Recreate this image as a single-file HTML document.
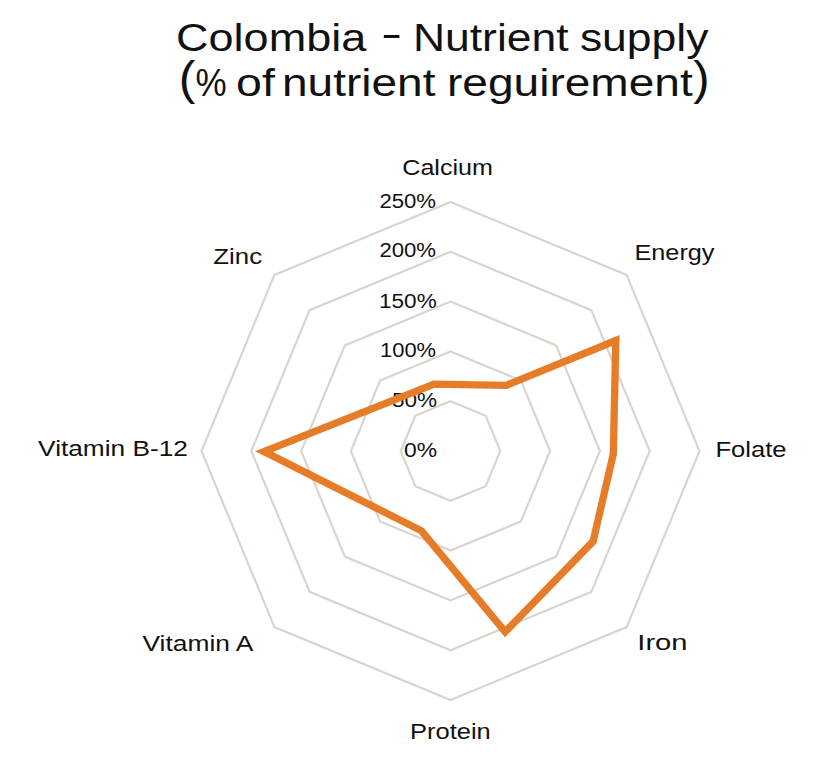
<!DOCTYPE html>
<html><head><meta charset="utf-8"><style>
html,body{margin:0;padding:0;background:#fff;width:840px;height:772px;overflow:hidden}
svg{display:block;font-family:"Liberation Sans",sans-serif}
</style></head><body>
<svg width="840" height="772" viewBox="0 0 840 772">
<rect width="840" height="772" fill="#fff"/>
<g><polygon points="450.50,401.20 485.71,415.79 500.30,451.00 485.71,486.21 450.50,500.80 415.29,486.21 400.70,451.00 415.29,415.79" fill="none" stroke="#d9d5ce" stroke-width="2.2"/>
<polygon points="450.50,351.40 520.93,380.57 550.10,451.00 520.93,521.43 450.50,550.60 380.07,521.43 350.90,451.00 380.07,380.57" fill="none" stroke="#d9d5ce" stroke-width="2.2"/>
<polygon points="450.50,301.60 556.14,345.36 599.90,451.00 556.14,556.64 450.50,600.40 344.86,556.64 301.10,451.00 344.86,345.36" fill="none" stroke="#d9d5ce" stroke-width="2.2"/>
<polygon points="450.50,251.80 591.36,310.14 649.70,451.00 591.36,591.86 450.50,650.20 309.64,591.86 251.30,451.00 309.64,310.14" fill="none" stroke="#d9d5ce" stroke-width="2.2"/>
<polygon points="450.50,202.00 626.57,274.93 699.50,451.00 626.57,627.07 450.50,700.00 274.43,627.07 201.50,451.00 274.43,274.93" fill="none" stroke="#d9d5ce" stroke-width="2.2"/></g>
<g fill="#111">
<text x="176.10" y="50.90" font-size="38" textLength="190.12" lengthAdjust="spacingAndGlyphs">Colombia</text>
<text x="381.10" y="46.60" font-size="38" textLength="21.22" lengthAdjust="spacingAndGlyphs">-</text>
<text x="412.90" y="50.90" font-size="38" textLength="155.69" lengthAdjust="spacingAndGlyphs">Nutrient</text>
<text x="579.90" y="50.90" font-size="38" textLength="128.47" lengthAdjust="spacingAndGlyphs">supply</text>
<text x="178.80" y="94.00" font-size="45.375574192336586" textLength="16.64" lengthAdjust="spacingAndGlyphs">(</text>
<text x="195.60" y="96.30" font-size="38" textLength="31.15" lengthAdjust="spacingAndGlyphs">%</text>
<text x="236.10" y="96.30" font-size="38" textLength="38.77" lengthAdjust="spacingAndGlyphs">of</text>
<text x="282.00" y="96.30" font-size="38" textLength="153.41" lengthAdjust="spacingAndGlyphs">nutrient</text>
<text x="447.00" y="96.30" font-size="38" textLength="245.75" lengthAdjust="spacingAndGlyphs">reguirement</text>
<text x="693.20" y="94.00" font-size="45.375574192336586" textLength="16.30" lengthAdjust="spacingAndGlyphs">)</text>
<text x="402.30" y="174.50" font-size="22.5" textLength="90.55" lengthAdjust="spacingAndGlyphs">Calcium</text>
<text x="634.50" y="259.50" font-size="22.5" textLength="79.93" lengthAdjust="spacingAndGlyphs">Energy</text>
<text x="715.50" y="456.50" font-size="22.5" textLength="71.01" lengthAdjust="spacingAndGlyphs">Folate</text>
<text x="637.30" y="650.00" font-size="22.5" textLength="50.22" lengthAdjust="spacingAndGlyphs">Iron</text>
<text x="410.10" y="738.50" font-size="22.5" textLength="80.68" lengthAdjust="spacingAndGlyphs">Protein</text>
<text x="142.50" y="650.50" font-size="22.5" textLength="110.83" lengthAdjust="spacingAndGlyphs">Vitamin A</text>
<text x="38.10" y="456.30" font-size="22.5" textLength="149.83" lengthAdjust="spacingAndGlyphs">Vitamin B-12</text>
<text x="213.30" y="263.50" font-size="22.5" textLength="48.77" lengthAdjust="spacingAndGlyphs">Zinc</text>
<text x="379.40" y="207.50" font-size="19.5" textLength="56.69" lengthAdjust="spacingAndGlyphs">250%</text>
<text x="379.40" y="257.30" font-size="19.5" textLength="56.69" lengthAdjust="spacingAndGlyphs">200%</text>
<text x="379.00" y="308.10" font-size="19.5" textLength="57.72" lengthAdjust="spacingAndGlyphs">150%</text>
<text x="380.00" y="357.40" font-size="19.5" textLength="56.12" lengthAdjust="spacingAndGlyphs">100%</text>
<text x="392.00" y="406.70" font-size="19.5" textLength="45.10" lengthAdjust="spacingAndGlyphs">50%</text>
<text x="404.00" y="456.50" font-size="19.5" textLength="33.05" lengthAdjust="spacingAndGlyphs">0%</text>
</g>
<polygon points="506.30,385.30 615.80,340.60 613.30,454.00 593.10,541.40 505.10,631.90 421.50,530.80 264.00,451.60 434.00,384.20" fill="none" stroke="#e67b28" stroke-width="7.3" stroke-linejoin="miter"/>
</svg>
</body></html>
